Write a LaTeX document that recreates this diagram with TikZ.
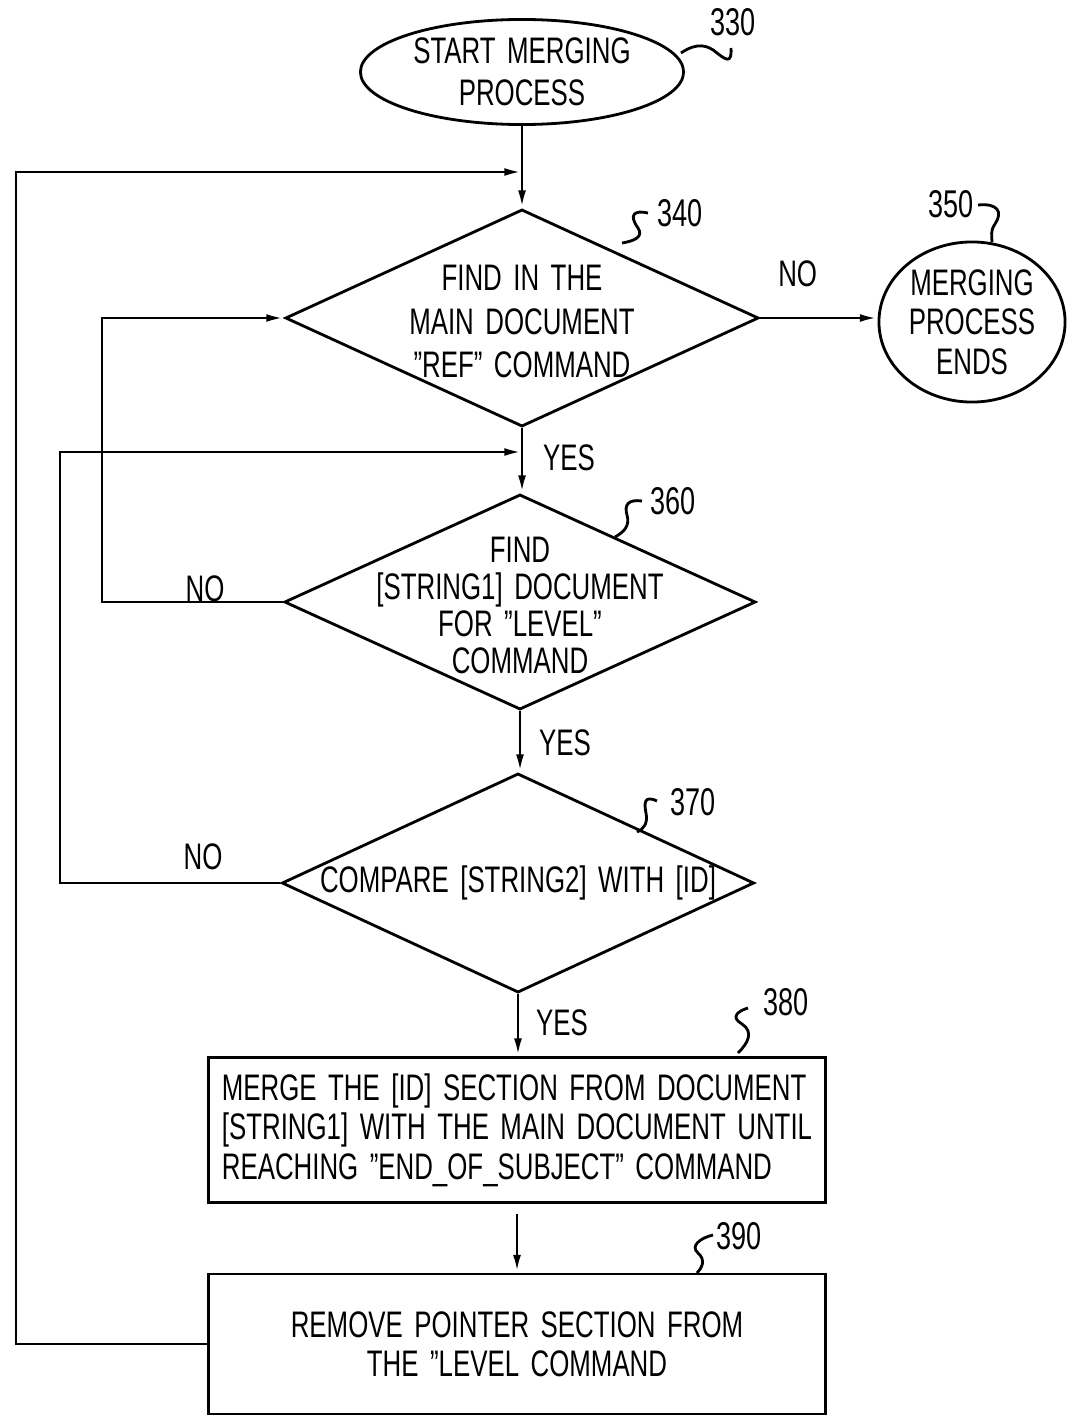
\documentclass[tikz,border=0pt]{standalone}
\usepackage{fontspec}
\setmainfont[FakeStretch=0.7,WordSpace=1.6]{Liberation Sans}
\usetikzlibrary{arrows.meta,shapes.geometric,positioning}

\begin{document}
\begin{tikzpicture}[x=0.01cm,y=-0.01cm,line width=0.8pt,
  every node/.style={font=\fontsize{10.5}{11.2}\selectfont},
  flow/.style={-{Latex[length=5pt,width=2.2pt]}},
  term/.style={draw,ellipse,inner sep=0pt,align=center},
  decide/.style={draw,diamond,inner sep=0pt},
  stepbox/.style={draw,rectangle,minimum width=6.17cm,minimum height=1.45cm},
  refno/.style={font=\fontsize{11}{12}\selectfont}]
  \useasboundingbox (0,0) rectangle (1067,1418);
  % blocks
  \node[term,minimum width=3.23cm,minimum height=1.05cm,font=\fontsize{10.5}{12}\selectfont] (start) at (522,72) {START MERGING\\PROCESS};
  \node[decide,minimum width=4.73cm,minimum height=2.17cm,
    label={[align=center,font=\fontsize{10.5}{12.3}\selectfont,yshift=-1pt]center:FIND IN THE\\MAIN DOCUMENT\\"REF" COMMAND}] (find) at (522,318) {};
  \node[term,minimum width=1.86cm,minimum height=1.6cm] (ends) at (972,322) {MERGING\\PROCESS\\ENDS};
  \node[decide,minimum width=4.71cm,minimum height=2.15cm,
    label={[align=center,font=\fontsize{10.5}{10.6}\selectfont,yshift=-1pt]center:FIND\\{[STRING1] DOCUMENT}\\FOR "LEVEL"\\COMMAND}] (level) at (520,602) {};
  \node[decide,minimum width=4.72cm,minimum height=2.19cm,
    label={center:COMPARE [STRING2] WITH [ID]}] (compare) at (518,883) {};
  \node[stepbox,align=left] (merge) at (517,1130) {MERGE THE [ID] SECTION FROM DOCUMENT\\\relax[STRING1] WITH THE MAIN DOCUMENT UNTIL\\REACHING "END\_OF\_SUBJECT" COMMAND};
  \node[stepbox,minimum height=1.40cm,align=center] (remove) at (517,1344) {REMOVE POINTER SECTION FROM\\THE "LEVEL COMMAND};
  % junctions of the loops
  \coordinate (top) at (522,172);
  \coordinate (mid) at (522,452);
  % connectors
  \draw[flow] (start.south) -- (find.north);
  \draw[flow] (find.east) -- (find.east -| ends.west) node[pos=.32,above=5pt] {NO};
  \draw[flow] (find.south) -- (find.south |- level.north);
  \draw[flow] (level.south) -- (level.south |- compare.north);
  \draw[flow] (compare.south) -- (compare.south |- merge.north);
  \draw[flow] (merge.south) ++(0,10) -- (remove.north);
  \draw[flow] (level.west) -- (102,602) |- (find.west);
  \draw[flow] (compare.west) -- (60,883) |- (mid);
  \draw[flow] (remove.west) -- (16,1344) |- (top);
  \node at (569,458) {YES};
  \node at (565,743) {YES};
  \node at (562,1023) {YES};
  \node at (205,589) {NO};
  \node at (203,857) {NO};
  % reference numerals
  \node[refno] (n330) at (733,22) {330};
  \node[refno] (n340) at (680,213) {340};
  \node[refno] (n350) at (951,204) {350};
  \node[refno] (n360) at (673,501) {360};
  \node[refno] (n370) at (693,802) {370};
  \node[refno] (n380) at (786,1002) {380};
  \node[refno] (n390) at (739,1236) {390};
  \draw (681,53) .. controls (697,42) and (708,45) .. (717,53) .. controls (726,60) and (732,64) .. (731,48);
  \draw (648,213) .. controls (635,210) and (628,214) .. (638,228) .. controls (644,237) and (634,241) .. (622,243);
  \draw (978,205) .. controls (998,203) and (1003,212) .. (995,224) .. controls (990,231) and (992,236) .. (992,242);
  \draw (642,501) .. controls (628,499) and (624,505) .. (627,515) .. controls (630,526) and (624,532) .. (615,537);
  \draw (657,801) .. controls (644,795) and (644,803) .. (646,813) .. controls (648,823) and (644,829) .. (637,832);
  \draw (748,1008) .. controls (738,1011) and (730,1017) .. (742,1024) .. controls (754,1032) and (748,1043) .. (738,1053);
  \draw (713,1235) .. controls (700,1238) and (690,1246) .. (698,1253) .. controls (706,1260) and (702,1268) .. (697,1273);
\end{tikzpicture}
\end{document}
